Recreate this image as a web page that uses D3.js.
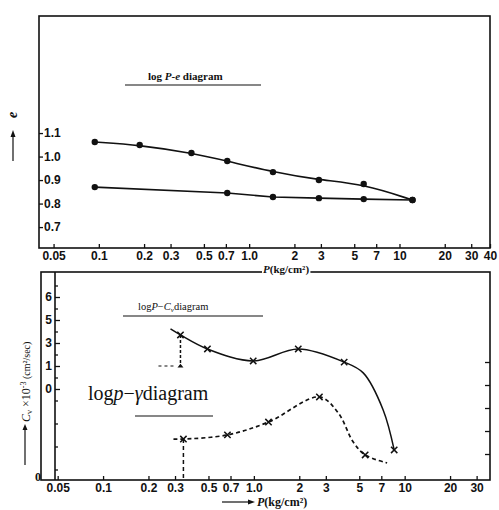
<!DOCTYPE html>
<html>
<head>
<meta charset="utf-8">
<script src="https://cdn.jsdelivr.net/npm/d3@7"></script>
<style>
  body { margin: 0; background: #fff; }
  svg { font-family: "Liberation Serif", "DejaVu Serif", serif; }
  .tick text { font-weight: bold; font-size: 12px; fill: #111; }
  .tick line { stroke: #111; stroke-width: 1.3; }
</style>
</head>
<body>
<div id="chart"></div>
<script>
const w = 499, h = 510;

// top panel: log P - e
const topTicks = [0.05, 0.1, 0.2, 0.3, 0.5, 0.7, 1, 2, 3, 5, 7, 10, 20, 30, 40];
const topTickLabels = ["0.05", "0.1", "0.2", "0.3", "0.5", "0.7", "1.0", "2", "3", "5", "7", "10", "20", "30", "40"];
const eTicks = [0.7, 0.8, 0.9, 1.0, 1.1];
const upperP = [0.094, 0.187, 0.413, 0.715, 1.44, 2.91, 5.78, 12.2];
const upperE = [1.062, 1.049, 1.015, 0.981, 0.934, 0.900, 0.883, 0.815];
const lowerP = [0.094, 0.715, 1.44, 2.91, 5.78, 12.2];
const lowerE = [0.870, 0.845, 0.828, 0.823, 0.819, 0.815];

// bottom panel: log P - Cv and log p - gamma
const botTicks = [0.05, 0.1, 0.2, 0.3, 0.5, 0.7, 1, 2, 3, 5, 7, 10, 20, 30];
const botTickLabels = ["0.05", "0.1", "0.2", "0.3", "0.5", "0.7", "1.0", "2", "3", "5", "7", "10", "20", "30"];
const cvTicks = [6, 5, 4, 3, 2];
const cvTickLabels = ["6", "5", "3", "1", "0"];
const gammaTicks = [1, 2, 3, 4, 5];
const cvLineP = [0.280, 0.326, 0.492, 0.99, 1.97, 3.97, 5.31, 7.2, 8.52];
const cvLine  = [4.61, 4.35, 3.74, 3.22, 3.74, 3.17, 2.70, 1.09, -0.65];
const cvMarkP = [0.326, 0.492, 0.99, 1.97, 3.97, 8.52];
const cvMark  = [4.35, 3.74, 3.22, 3.74, 3.17, -0.65];
const gammaLineP = [0.293, 0.341, 0.668, 1.25, 2.72, 3.63, 4.56, 5.47, 7.65];
const gammaLine  = [1.65, 1.65, 1.83, 2.39, 3.48, 2.78, 1.52, 0.96, 0.61];
const gammaMarkP = [0.341, 0.668, 1.25, 2.72, 5.47];
const gammaMark  = [1.65, 1.83, 2.39, 3.48, 0.96];

const svg = d3.select("#chart").append("svg").attr("width", w).attr("height", h);
svg.append("rect").attr("width", w).attr("height", h).attr("fill", "#fff");

const ink = "#111";

// ---------- top panel ----------
const xTop = d3.scaleLog().domain([0.04, 40]).range([39, 490]);
const yTop = d3.scaleLinear().domain([0.611, 1.598]).range([248, 16]);

svg.append("rect").attr("x", 39).attr("y", 16).attr("width", 451).attr("height", 232)
  .attr("fill", "none").attr("stroke", ink).attr("stroke-width", 1.6);

svg.append("g")
  .attr("transform", "translate(0,248)")
  .call(d3.axisBottom(xTop).tickValues(topTicks).tickSizeInner(-4).tickSizeOuter(0).tickPadding(3)
    .tickFormat((d, i) => topTickLabels[i]))
  .call(g => g.select(".domain").remove());

svg.append("g")
  .attr("transform", "translate(39,0)")
  .call(d3.axisRight(yTop).tickValues(eTicks).tickSizeInner(4).tickSizeOuter(0).tickPadding(1)
    .tickFormat(d3.format(".1f")))
  .call(g => g.select(".domain").remove());

const lineTop = d3.line().x(d => xTop(d[0])).y(d => yTop(d[1]));
const upper = upperP.map((p, i) => [p, upperE[i]]);
const lower = lowerP.map((p, i) => [p, lowerE[i]]);

svg.append("path").datum(upper).attr("d", lineTop.curve(d3.curveBasis))
  .attr("fill", "none").attr("stroke", ink).attr("stroke-width", 1.6);
svg.append("path").datum(lower).attr("d", lineTop.curve(d3.curveLinear))
  .attr("fill", "none").attr("stroke", ink).attr("stroke-width", 1.6);

svg.selectAll(".dot").data(upper.concat(lower)).enter().append("circle")
  .attr("cx", d => xTop(d[0])).attr("cy", d => yTop(d[1])).attr("r", 3.2).attr("fill", ink);

// title
const t1 = svg.append("text").attr("x", 148).attr("y", 80).attr("font-size", 11).attr("font-weight", "bold").attr("fill", ink);
t1.append("tspan").text("log ");
t1.append("tspan").attr("font-style", "italic").text("P");
t1.append("tspan").text("-");
t1.append("tspan").attr("font-style", "italic").text("e");
t1.append("tspan").text(" diagram");
svg.append("line").attr("x1", 125).attr("x2", 261).attr("y1", 85).attr("y2", 85).attr("stroke", ink).attr("stroke-width", 1.2);

// e axis label
svg.append("line").attr("x1", 13).attr("x2", 13).attr("y1", 161).attr("y2", 134).attr("stroke", ink).attr("stroke-width", 1.2);
svg.append("path").attr("d", "M13,130 L10.5,137 L15.5,137 Z").attr("fill", ink);
svg.append("text").attr("transform", "translate(17,115) rotate(-90)").attr("text-anchor", "middle")
  .attr("font-size", 14).attr("font-weight", "bold").attr("font-style", "italic").attr("fill", ink).text("e");

// ---------- bottom panel ----------
const xBot = d3.scaleLog().domain([0.048, 36.8]).range([55, 490]);
const yCv = d3.scaleLinear().domain([-1.957, 7.087]).range([480, 272]);
const yGam = d3.scaleLinear().domain([-0.13, 8.913]).range([480, 272]);

svg.append("rect").attr("x", 41).attr("y", 272).attr("width", 449).attr("height", 208)
  .attr("fill", "none").attr("stroke", ink).attr("stroke-width", 1.6);
svg.append("line").attr("x1", 55).attr("x2", 55).attr("y1", 272).attr("y2", 480).attr("stroke", ink).attr("stroke-width", 1.6);

// P label sitting on the top border
const plg = svg.append("g");
const plBg = plg.append("rect").attr("fill", "#fff");
const pl = plg.append("text").attr("x", 263).attr("y", 273).attr("font-size", 11).attr("font-weight", "bold").attr("fill", ink);
pl.append("tspan").attr("font-style", "italic").text("P");
pl.append("tspan").text("(kg/cm²)");
const bb = pl.node().getBBox();
plBg.attr("x", bb.x - 1).attr("y", bb.y + 2).attr("width", bb.width + 2).attr("height", bb.height - 3);

svg.append("g")
  .attr("transform", "translate(0,480)")
  .call(d3.axisBottom(xBot).tickValues(botTicks).tickSizeInner(-4).tickSizeOuter(0).tickPadding(3)
    .tickFormat((d, i) => botTickLabels[i]))
  .call(g => g.select(".domain").remove());

svg.append("g")
  .attr("transform", "translate(55,0)")
  .call(d3.axisLeft(yCv).tickValues(cvTicks).tickSizeInner(-5).tickSizeOuter(0).tickPadding(3)
    .tickFormat((d, i) => cvTickLabels[i]))
  .call(g => g.select(".domain").remove());

svg.append("g")
  .attr("transform", "translate(55,0)")
  .call(d3.axisLeft(yCv).tickValues(d3.range(-1.5, 7, 0.5).filter(v => v % 1 !== 0)).tickSizeInner(-3).tickSizeOuter(0).tickFormat(""))
  .call(g => g.select(".domain").remove());

svg.append("g")
  .attr("transform", "translate(490,0)")
  .call(d3.axisRight(yGam).tickValues(gammaTicks).tickSizeInner(-5).tickSizeOuter(0).tickFormat(""))
  .call(g => g.select(".domain").remove());

svg.append("text").attr("x", 38).attr("y", 481).attr("text-anchor", "middle")
  .attr("font-size", 12).attr("font-weight", "bold").attr("fill", ink).text("0");

// Cv curve
const cvPts = cvLineP.map((p, i) => [p, cvLine[i]]);
svg.append("path").datum(cvPts)
  .attr("d", d3.line().x(d => xBot(d[0])).y(d => yCv(d[1])).curve(d3.curveCatmullRom))
  .attr("fill", "none").attr("stroke", ink).attr("stroke-width", 1.5);

// gamma curve (dashed)
const gPts = gammaLineP.map((p, i) => [p, gammaLine[i]]);
svg.append("path").datum(gPts)
  .attr("d", d3.line().x(d => xBot(d[0])).y(d => yGam(d[1])).curve(d3.curveCatmullRom))
  .attr("fill", "none").attr("stroke", ink).attr("stroke-width", 1.7).attr("stroke-dasharray", "4,3");

// drop lines
svg.append("line")
  .attr("x1", xBot(cvMarkP[0])).attr("x2", xBot(cvMarkP[0]))
  .attr("y1", yCv(cvMark[0])).attr("y2", yCv(2.96))
  .attr("stroke", ink).attr("stroke-width", 1.5).attr("stroke-dasharray", "3,2");
svg.append("path")
  .attr("d", `M${xBot(cvMarkP[0]) - 3},${yCv(2.93)} L${xBot(cvMarkP[0]) + 3},${yCv(2.93)} L${xBot(cvMarkP[0])},${yCv(3.1)} Z`)
  .attr("fill", ink);
svg.append("line")
  .attr("x1", xBot(0.233)).attr("x2", xBot(0.293))
  .attr("y1", yCv(3.0)).attr("y2", yCv(3.0))
  .attr("stroke", ink).attr("stroke-width", 1.2).attr("stroke-dasharray", "3,3");
svg.append("line")
  .attr("x1", xBot(gammaMarkP[0])).attr("x2", xBot(gammaMarkP[0]))
  .attr("y1", yGam(gammaMark[0])).attr("y2", 480)
  .attr("stroke", ink).attr("stroke-width", 1.5).attr("stroke-dasharray", "4,3");

// markers
const xMark = d3.symbol().type(d3.symbolX).size(28);
svg.selectAll(".cvm").data(cvMarkP).enter().append("path")
  .attr("transform", (d, i) => `translate(${xBot(d)},${yCv(cvMark[i])})`)
  .attr("d", xMark).attr("fill", "none").attr("stroke", ink).attr("stroke-width", 1.5);
svg.selectAll(".gm").data(gammaMarkP).enter().append("path")
  .attr("transform", (d, i) => `translate(${xBot(d)},${yGam(gammaMark[i])})`)
  .attr("d", xMark).attr("fill", "none").attr("stroke", ink).attr("stroke-width", 1.5);

// titles
const t2 = svg.append("text").attr("x", 138).attr("y", 310).attr("font-size", 10.5).attr("fill", ink);
t2.append("tspan").text("log");
t2.append("tspan").attr("font-style", "italic").text("P");
t2.append("tspan").text("−");
t2.append("tspan").attr("font-style", "italic").text("C");
t2.append("tspan").attr("font-style", "italic").attr("font-size", 7).attr("dy", 2).text("v");
t2.append("tspan").attr("dy", -2).text("diagram");
svg.append("line").attr("x1", 123).attr("x2", 263).attr("y1", 316).attr("y2", 316).attr("stroke", ink).attr("stroke-width", 1.2);

const t3 = svg.append("text").attr("x", 88).attr("y", 400).attr("font-size", 20).attr("fill", ink);
t3.append("tspan").text("log");
t3.append("tspan").attr("font-style", "italic").text("p");
t3.append("tspan").text("−");
t3.append("tspan").attr("font-style", "italic").text("γ");
t3.append("tspan").text("diagram");
svg.append("line").attr("x1", 135).attr("x2", 213).attr("y1", 416).attr("y2", 416).attr("stroke", ink).attr("stroke-width", 1.2);

// Cv axis label
svg.append("line").attr("x1", 25).attr("x2", 25).attr("y1", 465).attr("y2", 428).attr("stroke", ink).attr("stroke-width", 1.2);
svg.append("path").attr("d", "M25,424 L22.5,430 L27.5,430 Z").attr("fill", ink);
const yl = svg.append("text").attr("transform", "translate(29.5,422) rotate(-90)")
  .attr("font-size", 12).attr("fill", ink);
yl.append("tspan").attr("font-style", "italic").text("C");
yl.append("tspan").attr("font-size", 8).attr("dy", 2).text("v");
yl.append("tspan").attr("dy", -2).text(" ×10");
yl.append("tspan").attr("font-size", 8).attr("dy", -4).text("-3");
yl.append("tspan").attr("dy", 4).attr("font-size", 10).text(" (cm²/sec)");

// bottom P label
svg.append("line").attr("x1", 222).attr("x2", 250).attr("y1", 502).attr("y2", 502).attr("stroke", ink).attr("stroke-width", 1.2);
svg.append("path").attr("d", "M255,502 L248,499.5 L248,504.5 Z").attr("fill", ink);
const bl = svg.append("text").attr("x", 257).attr("y", 506).attr("font-size", 12).attr("font-weight", "bold").attr("fill", ink);
bl.append("tspan").attr("font-style", "italic").text("P");
bl.append("tspan").text("(kg/cm²)");
</script>
</body>
</html>
